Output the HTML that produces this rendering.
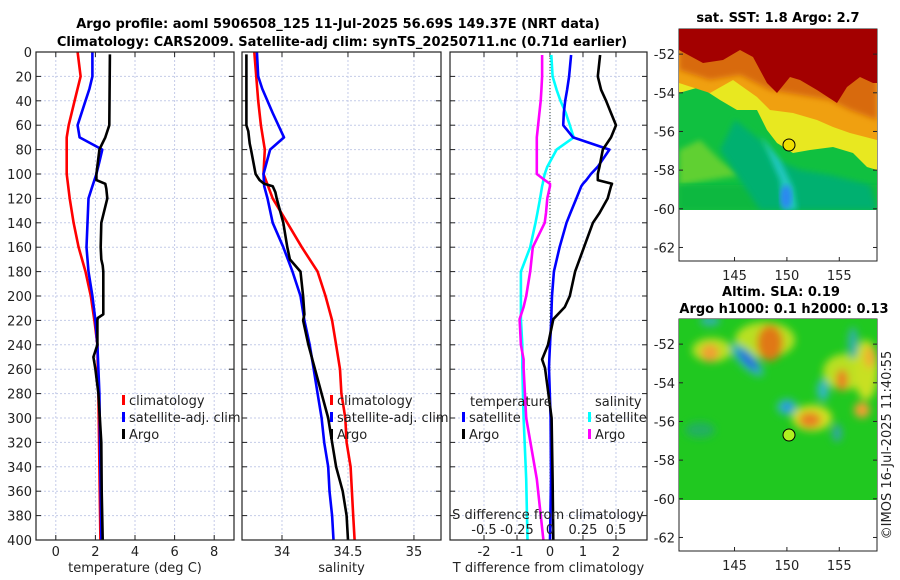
<!DOCTYPE html>
<html><head><meta charset="utf-8">
<style>
html,body{margin:0;padding:0;background:#fff;}
svg{display:block;font-family:"DejaVu Sans","Liberation Sans",sans-serif;}
.t{font-size:13px;fill:#222;}
.b{font-size:13px;font-weight:bold;fill:#000;}
</style></head>
<body>
<svg id="fig" width="900" height="580" viewBox="0 0 900 580" xmlns="http://www.w3.org/2000/svg">
<defs>
<filter id="blur3"><feGaussianBlur stdDeviation="3"/></filter>
<filter id="blur5"><feGaussianBlur stdDeviation="4"/></filter>
<clipPath id="clipTop"><rect x="679" y="29" width="198" height="181"/></clipPath>
<clipPath id="clipBot"><rect x="679" y="319" width="198" height="181"/></clipPath>
</defs>
<text class="b" x="338" y="28" text-anchor="middle">Argo profile: aoml 5906508_125 11-Jul-2025 56.69S 149.37E (NRT data)</text>
<text class="b" x="342" y="46" text-anchor="middle">Climatology: CARS2009. Satellite-adj clim: synTS_20250711.nc (0.71d earlier)</text>
<g id="g1"></g>
<g id="g2"></g>
<g id="g3"></g>

<!-- SST map -->
<g>
<text class="b" x="778" y="22" text-anchor="middle">sat. SST: 1.8 Argo: 2.7</text>
<rect x="679" y="29" width="198" height="232" fill="#fff" stroke="#222" stroke-width="1"/>
<g clip-path="url(#clipTop)">
<rect x="679" y="29" width="198" height="181" fill="#10c040"/>
<polygon points="679,29 877,29 877,170 867,167 853,153 833,147 810,150 793,153 777,143 767,130 757,110 737,110 720,100 700,87 679,93" fill="#e8e820"/>
<polygon points="679,29 877,29 877,140 850,133 833,127 817,120 793,113 770,110 757,97 733,80 710,93 679,83" fill="#f0a010"/>
<polygon points="679,29 877,29 877,120 850,110 830,100 800,95 770,90 740,75 710,80 679,70" fill="#d86a08" filter="url(#blur3)"/>
<polygon points="679,29 877,29 877,83 873,83 860,77 847,87 837,103 817,90 800,80 790,77 777,93 767,83 753,57 740,50 723,60 703,63 679,50" fill="#a30000"/>
<polygon points="679,150 700,140 720,160 740,175 679,185" fill="#60d030" filter="url(#blur3)"/>
<polygon points="679,185 877,185 877,210 679,210" fill="#10b840" filter="url(#blur3)"/>
<polygon points="735,120 760,140 775,160 800,170 830,175 870,185 877,210 760,210 740,180 720,150" fill="#00b070" filter="url(#blur3)"/>
<polygon points="760,135 770,157 780,180 783,210 797,210 793,187 780,160" fill="#20c8c0" filter="url(#blur3)"/>
<ellipse cx="786" cy="197" rx="6" ry="12" fill="#2a88f0" filter="url(#blur3)"/>
</g>
<circle cx="789" cy="145" r="6" fill="#f0e000" stroke="#000" stroke-width="1"/>
</g>

<!-- SLA map -->
<g>
<text class="b" x="781" y="296" text-anchor="middle">Altim. SLA: 0.19</text>
<text class="b" x="784" y="313" text-anchor="middle">Argo h1000: 0.1 h2000: 0.13</text>
<rect x="679" y="319" width="198" height="232" fill="#fff" stroke="#222" stroke-width="1"/>
<g clip-path="url(#clipBot)">
<rect x="679" y="319" width="198" height="181" fill="#20c820"/>
<g filter="url(#blur5)">
<ellipse cx="765" cy="340" rx="30" ry="18" fill="#b8e020"/>
<ellipse cx="712" cy="350" rx="20" ry="12" fill="#b8e020"/>
<ellipse cx="845" cy="372" rx="22" ry="18" fill="#b8e020"/>
<ellipse cx="812" cy="418" rx="20" ry="13" fill="#d0e020"/>
<ellipse cx="866" cy="370" rx="12" ry="30" fill="#c8e020"/>
<ellipse cx="770" cy="343" rx="13" ry="18" fill="#e07818"/>
<ellipse cx="710" cy="353" rx="9" ry="9" fill="#f0a030"/>
<ellipse cx="810" cy="420" rx="11" ry="8" fill="#e88020"/>
<ellipse cx="842" cy="380" rx="6" ry="11" fill="#e88020"/>
<ellipse cx="862" cy="410" rx="8" ry="8" fill="#f0a030"/>
<ellipse cx="870" cy="357" rx="6" ry="11" fill="#f0b030"/>
<ellipse cx="747" cy="360" rx="22" ry="8" transform="rotate(45 747 360)" fill="#30b8b0"/>
<ellipse cx="748" cy="360" rx="14" ry="4" transform="rotate(45 748 360)" fill="#2060e0"/>
<ellipse cx="787" cy="407" rx="10" ry="8" fill="#30b8c0"/>
<ellipse cx="787" cy="407" rx="4" ry="4" fill="#2080e8"/>
<ellipse cx="823" cy="390" rx="6" ry="11" fill="#30b8c0"/>
<ellipse cx="837" cy="433" rx="5" ry="9" fill="#30a8a0"/>
<ellipse cx="853" cy="343" rx="5" ry="16" fill="#30b0a8"/>
<ellipse cx="710" cy="321" rx="10" ry="5" fill="#30b0b0"/>
<ellipse cx="700" cy="430" rx="15" ry="8" fill="#20b060"/>
</g>
</g>
<circle cx="789" cy="435" r="6" fill="#b0f020" stroke="#000" stroke-width="1"/>
</g>
<text class="t" x="891" y="445" text-anchor="middle" transform="rotate(-90 891 445)">©IMOS 16-Jul-2025 11:40:55</text>
</svg>
<script>
// ---------- data ----------
var depthTicks=[0,20,40,60,80,100,120,140,160,180,200,220,240,260,280,300,320,340,360,380,400];
var tempTicks=[0,2,4,6,8];
var salTicks=[34,34.5,35];
var tdiffTicks=[-2,-1,0,1,2];
var sdiffTicks=[-0.5,-0.25,0,0.25,0.5];
var latTicks=[-52,-54,-56,-58,-60,-62];
var lonTicks=[145,150,155];

var climTdepth=[0,20,40,60,70,100,120,140,160,180,200,220,240,260,280,400];
var climT=[1.1,1.25,0.95,0.65,0.55,0.55,0.7,0.9,1.15,1.5,1.77,1.95,2.1,2.12,2.15,2.25];
var satTdepth=[0,20,30,40,60,70,80,90,100,110,120,140,160,180,200,220,240,260,280,400];
var satT=[1.85,1.85,1.7,1.5,1.1,1.2,2.35,2.2,2.05,1.85,1.65,1.6,1.55,1.65,1.85,2.0,2.1,2.15,2.2,2.3];
var argoTdepth=[2,60,70,75,80,100,105,108,112,120,140,160,170,175,180,200,215,218,220,240,250,255,260,280,320,360,400];
var argoT=[2.73,2.7,2.5,2.35,2.2,2.05,2.05,2.5,2.55,2.6,2.3,2.27,2.3,2.37,2.4,2.4,2.4,2.12,2.1,2.1,1.9,1.95,2.0,2.15,2.3,2.32,2.37];

var climSdepth=[0,40,60,80,100,120,140,160,180,200,220,240,260,280,300,320,340,360,380,400];
var climS=[33.79,33.82,33.84,33.87,33.86,33.93,34.04,34.15,34.27,34.33,34.38,34.41,34.44,34.45,34.48,34.49,34.52,34.53,34.54,34.55];
var satSdepth=[0,20,30,50,70,80,100,110,120,140,160,180,200,220,240,260,280,300,320,340,360,380,400];
var satS=[33.81,33.82,33.85,33.93,34.015,33.91,33.86,33.865,33.89,33.93,34.01,34.08,34.14,34.17,34.21,34.24,34.27,34.30,34.32,34.35,34.36,34.38,34.39];
var argoSdepth=[2,20,60,65,75,80,100,105,108,110,115,120,140,160,170,180,200,215,220,240,260,280,300,320,340,360,380,400];
var argoS=[33.73,33.73,33.73,33.745,33.755,33.765,33.8,33.83,33.865,33.93,33.95,33.96,34.01,34.04,34.06,34.14,34.16,34.17,34.16,34.2,34.25,34.30,34.35,34.38,34.41,34.46,34.49,34.5];

var dDepth=[2.5,20,31,40,50,60,70,80,94,100,105,108,110,120,132,140,160,180,200,209,219,240,252,259,300,350,400];
var satTdiff=[0.64,0.58,0.52,0.46,0.42,0.4,0.7,1.8,1.45,1.24,1.1,1.0,0.95,0.8,0.62,0.5,0.29,0.12,0.06,0.05,0.04,0.0,-0.02,-0.03,0.02,0.03,0.0];
var argoTdiff=[1.52,1.45,1.55,1.7,1.85,2.0,1.85,1.6,1.5,1.45,1.45,1.88,1.85,1.75,1.5,1.3,1.03,0.76,0.6,0.45,0.1,-0.06,-0.24,-0.15,0.05,0.08,0.1];
var satSdiff=[0.01,0.02,0.05,0.08,0.12,0.15,0.18,0.05,-0.02,-0.04,-0.05,-0.055,-0.06,-0.075,-0.095,-0.11,-0.15,-0.22,-0.22,-0.22,-0.22,-0.21,-0.21,-0.21,-0.2,-0.18,-0.17];
var argoSdiff=[-0.06,-0.06,-0.065,-0.07,-0.08,-0.09,-0.1,-0.1,-0.1,-0.1,-0.04,0.0,0.0,-0.02,-0.03,-0.04,-0.13,-0.15,-0.18,-0.2,-0.23,-0.22,-0.2,-0.2,-0.18,-0.1,-0.05];

// ---------- helpers ----------
var NS='http://www.w3.org/2000/svg';
function mk(parent,tag,attrs){var e=document.createElementNS(NS,tag);for(var k in attrs)e.setAttribute(k,attrs[k]);parent.appendChild(e);return e;}
var Y0=52,Y1=540;
function yD(d){return Y0+(d/400)*(Y1-Y0);}

function panel(g,x0,x1,xmin,xmax,xTicks,tickFmt,xTitle,showDepthLabels){
  function xs(v){return x0+(v-xmin)/(xmax-xmin)*(x1-x0);}
  mk(g,'rect',{x:x0,y:Y0,width:x1-x0,height:Y1-Y0,fill:'#fff'});
  depthTicks.forEach(function(d){
    var l=mk(g,'line',{x1:x0,x2:x1,y1:yD(d),y2:yD(d),stroke:'#c4cbe8','stroke-width':1,'stroke-dasharray':'2,2'});
    
    
    mk(g,'line',{x1:x0,x2:x0+5,y1:yD(d),y2:yD(d),stroke:'#222'});
    mk(g,'line',{x1:x1-5,x2:x1,y1:yD(d),y2:yD(d),stroke:'#222'});
    if(showDepthLabels){
      var t=mk(g,'text',{x:x0-4,y:yD(d)+5,'text-anchor':'end','class':'t'});
      t.textContent=d;
      
      
    }
  });
  xTicks.forEach(function(v){
    var l=mk(g,'line',{x1:xs(v),x2:xs(v),y1:Y0,y2:Y1,stroke:'#c4cbe8','stroke-width':1,'stroke-dasharray':'2,2'});
    
    
    mk(g,'line',{x1:xs(v),x2:xs(v),y1:Y1-5,y2:Y1,stroke:'#222'});
    mk(g,'line',{x1:xs(v),x2:xs(v),y1:Y0,y2:Y0+5,stroke:'#222'});
    var t=mk(g,'text',{x:xs(v),y:556,'text-anchor':'middle','class':'t'});
    t.textContent=tickFmt(v);
    
    
  });
  var tt=mk(g,'text',{x:(x0+x1)/2,y:572,'text-anchor':'middle','class':'t'});
  tt.textContent=xTitle;
  
  
  return xs;
}
function frame(g,x0,x1){
  var r=mk(g,'rect',{x:x0,y:Y0,width:x1-x0,height:Y1-Y0,fill:'none',stroke:'#222','stroke-width':1.2});
  
  
}
function line(g,xs,vals,depths,color,name){
  var pts=vals.map(function(v,i){return xs(v).toFixed(1)+','+yD(depths[i]).toFixed(1);}).join(' ');
  var p=mk(g,'polyline',{points:pts,fill:'none',stroke:color,'stroke-width':2.6,'stroke-linejoin':'round'});
  
  
}
function legend(g,x,y,color,label,name){
  mk(g,'rect',{x:x,y:y-10,width:3,height:10,fill:color});
  var t=mk(g,'text',{x:x+7,y:y,'class':'t'});
  t.textContent=label;
  
  
}

// ---------- panel 1 ----------
var g1=document.getElementById('g1');
var xT=panel(g1,36,234,-1,9,tempTicks,function(v){return v;},'temperature (deg C)',true);
line(g1,xT,climT,climTdepth,'#ff0000','climatology-temperature-line');
line(g1,xT,satT,satTdepth,'#0000ff','satellite-temperature-line');
line(g1,xT,argoT,argoTdepth,'#000000','argo-temperature-line');
legend(g1,122,405,'#ff0000','climatology','legend-climatology');
legend(g1,122,422,'#0000ff','satellite-adj. clim','legend-satellite');
legend(g1,122,439,'#000000','Argo','legend-argo');
frame(g1,36,234);

// ---------- panel 2 ----------
var g2=document.getElementById('g2');
var xS=panel(g2,242,441,33.697,35.205,salTicks,function(v){return v;},'salinity',false);
line(g2,xS,climS,climSdepth,'#ff0000','climatology-salinity-line');
line(g2,xS,satS,satSdepth,'#0000ff','satellite-salinity-line');
line(g2,xS,argoS,argoSdepth,'#000000','argo-salinity-line');
legend(g2,330,405,'#ff0000','climatology','legend-climatology-s');
legend(g2,330,422,'#0000ff','satellite-adj. clim','legend-satellite-s');
legend(g2,330,439,'#000000','Argo','legend-argo-s');
frame(g2,242,441);

// ---------- panel 3 ----------
var g3=document.getElementById('g3');
var xD=panel(g3,450,647,-3.03,2.94,tdiffTicks,function(v){return v;},'T difference from climatology',false);
function xSd(v){return xD(v*4);}
var zl=mk(g3,'line',{x1:xD(0),x2:xD(0),y1:Y0,y2:Y1,stroke:'#304030','stroke-width':1,'stroke-dasharray':'1,2'});


line(g3,xSd,satSdiff,dDepth,'#00ffff','satellite-salinity-diff-line');
line(g3,xSd,argoSdiff,dDepth,'#ff00ff','argo-salinity-diff-line');
line(g3,xD,satTdiff,dDepth,'#0000ff','satellite-temperature-diff-line');
line(g3,xD,argoTdiff,dDepth,'#000000','argo-temperature-diff-line');
var lt=mk(g3,'text',{x:470,y:406,'class':'t'});lt.textContent='temperature';


var ls=mk(g3,'text',{x:595,y:406,'class':'t'});ls.textContent='salinity';


legend(g3,462,422,'#0000ff','satellite','legend-t-satellite');
legend(g3,462,439,'#000000','Argo','legend-t-argo');
legend(g3,588,422,'#00ffff','satellite','legend-s-satellite');
legend(g3,588,439,'#ff00ff','Argo','legend-s-argo');
var st=mk(g3,'text',{x:548,y:519,'text-anchor':'middle','class':'t'});st.textContent='S difference from climatology';


sdiffTicks.forEach(function(v){
  var t=mk(g3,'text',{x:xSd(v),y:534,'text-anchor':'middle','class':'t'});
  t.textContent=(v===0?'0':String(v));
  
  
});
frame(g3,450,647);

// ---------- map axes ----------
var fig=document.getElementById('fig');
function mapAxes(yTop,yBot,xlabY){
  function ly(l){return yTop+(l-(-50.7))/(-62.7-(-50.7))*(yBot-yTop);}
  function lx(l){return 679+(l-139.7)/(158.6-139.7)*198;}
  latTicks.forEach(function(l){
    mk(fig,'line',{x1:679,x2:683,y1:ly(l),y2:ly(l),stroke:'#222'});
    mk(fig,'line',{x1:873,x2:877,y1:ly(l),y2:ly(l),stroke:'#222'});
    var t=mk(fig,'text',{x:675,y:ly(l)+5,'text-anchor':'end','class':'t'});
    t.textContent=l;
    
    
  });
  lonTicks.forEach(function(l){
    mk(fig,'line',{x1:lx(l),x2:lx(l),y1:yBot-4,y2:yBot,stroke:'#222'});
    var t=mk(fig,'text',{x:lx(l),y:xlabY,'text-anchor':'middle','class':'t'});
    t.textContent=l;
    
    
  });
}
mapAxes(29,261,280);
mapAxes(319,551,570);
</script>
</body></html>
